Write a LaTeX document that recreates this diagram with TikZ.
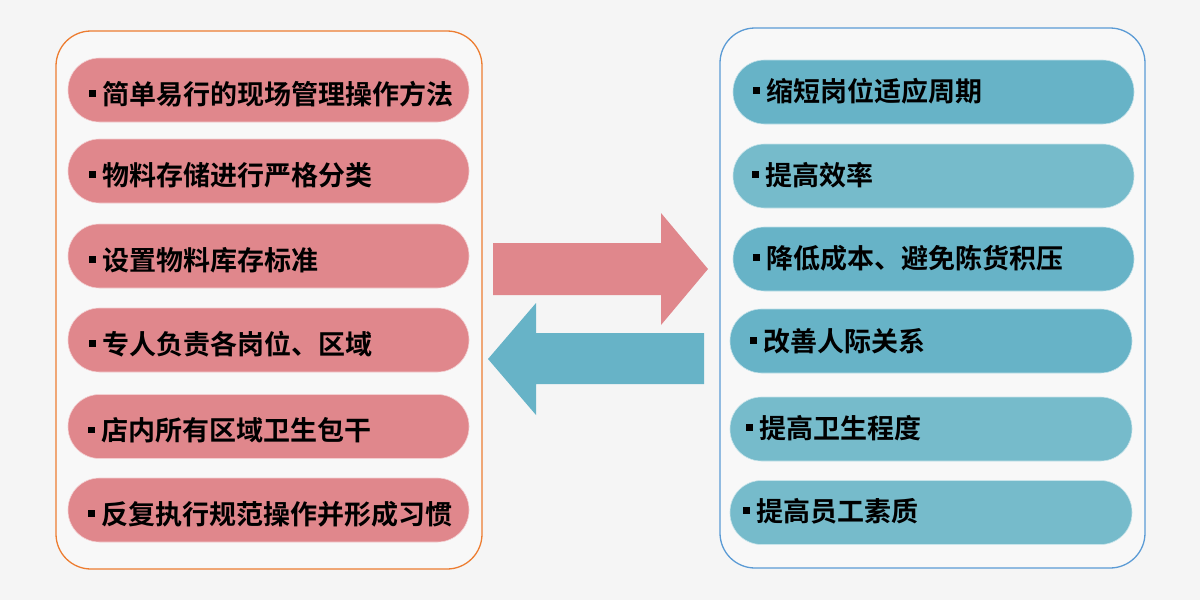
\documentclass[tikz,border=0pt]{standalone}
\usepackage{fontspec}
\newfontfamily\cjk{Noto Sans CJK SC}[UprightFont=* Bold]
\definecolor{bgc}{HTML}{F5F5F5}
\definecolor{boxc}{HTML}{F8F8F8}
\definecolor{pinkc}{HTML}{E0878C}
\definecolor{blued}{HTML}{67B3C7}
\definecolor{bluel}{HTML}{76BBCB}
\definecolor{orangec}{HTML}{ED7D31}
\definecolor{bluec}{HTML}{5B9BD5}
\newcommand{\bul}{\raisebox{7.5pt}{\rule{6.5pt}{6.5pt}}\hspace{7pt}}
\tikzset{
  panel/.style={draw, line width=1.3pt, fill=boxc, rounded corners=35pt},
  pill/.style={draw=white!60!#1, line width=0.6pt, fill=#1, rounded corners=31.5pt, minimum height=64pt, inner sep=0pt},
  lbl/.style={anchor=base west, inner sep=0pt, font=\cjk\fontsize{27}{30}\selectfont, text=black},
}
\begin{document}
\begin{tikzpicture}[x=1pt,y=-1pt]
\fill[bgc] (0,0) rectangle (1200,600);
\useasboundingbox (0,0) rectangle (1200,600);
% panels
\draw[panel, draw=orangec] (56,31) rectangle (482,569);
\draw[panel, draw=bluec] (720,28) rectangle (1145,568);
% left pills
\node[pill=pinkc, minimum width=401pt] (l1) at (268.5,90) {};
\node[pill=pinkc, minimum width=401pt] (l2) at (268.5,171) {};
\node[pill=pinkc, minimum width=401pt] (l3) at (268.5,256) {};
\node[pill=pinkc, minimum width=401pt] (l4) at (268.5,340) {};
\node[pill=pinkc, minimum width=401pt] (l5) at (268.5,426.5) {};
\node[pill=pinkc, minimum width=401pt] (l6) at (268.5,510) {};
\node[lbl] (t1) at (89,104) {\bul 简单易行的现场管理操作方法};
\node[lbl] (t2) at (89,185) {\bul 物料存储进行严格分类};
\node[lbl] (t3) at (89,270) {\bul 设置物料库存标准};
\node[lbl] (t4) at (89,354) {\bul 专人负责各岗位、区域};
\node[lbl] (t5) at (88,440.5) {\bul 店内所有区域卫生包干};
\node[lbl] (t6) at (88,524) {\bul 反复执行规范操作并形成习惯};
% right pills
\node[pill=blued, minimum width=401pt] (r1) at (933.5,92) {};
\node[pill=bluel, minimum width=401pt] (r2) at (933.5,176) {};
\node[pill=blued, minimum width=401pt] (r3) at (933.5,259) {};
\node[pill=blued, minimum width=402pt] (r4) at (931,341) {};
\node[pill=bluel, minimum width=402pt] (r5) at (931,429) {};
\node[pill=bluel, minimum width=402pt] (r6) at (931,512.5) {};
\node[lbl] (s1) at (753,101) {\bul 缩短岗位适应周期};
\node[lbl] (s2) at (752,185) {\bul 提高效率};
\node[lbl] (s3) at (753,268) {\bul 降低成本、避免陈货积压};
\node[lbl] (s4) at (750,351) {\bul 改善人际关系};
\node[lbl] (s5) at (746,438) {\bul 提高卫生程度};
\node[lbl] (s6) at (743,521) {\bul 提高员工素质};
% arrows
\fill[pinkc] (493,243) -- (661,243) -- (661,213) -- (708,269) -- (661,325) -- (661,295) -- (493,295) -- cycle;
\fill[blued] (704,333) -- (536,333) -- (536,303) -- (488,359) -- (536,415) -- (536,384) -- (704,384) -- cycle;
\end{tikzpicture}
\end{document}
